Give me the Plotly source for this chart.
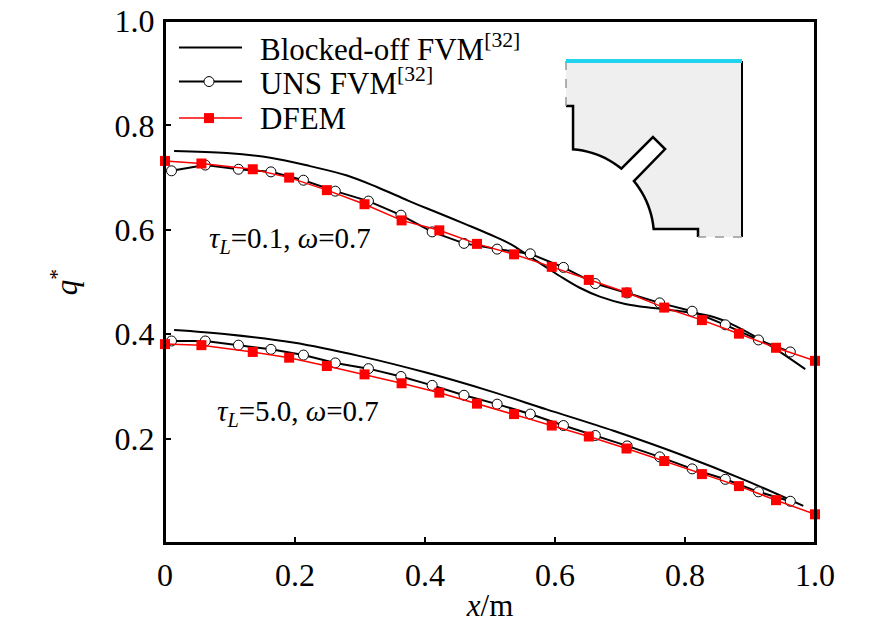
import numpy as np
import plotly.graph_objects as go

# DFEM (red squares)
dfem_x = [0.0, 0.056, 0.135, 0.191, 0.249, 0.307, 0.364, 0.422, 0.480, 0.537,
          0.595, 0.652, 0.710, 0.768, 0.826, 0.883, 0.940, 1.0]
dfem_tau01 = [0.732, 0.727, 0.716, 0.700, 0.676, 0.649, 0.618, 0.599, 0.573, 0.553,
              0.529, 0.504, 0.480, 0.451, 0.427, 0.401, 0.374, 0.349]
dfem_tau50 = [0.381, 0.379, 0.366, 0.355, 0.339, 0.323, 0.306, 0.288, 0.267, 0.247,
              0.225, 0.204, 0.181, 0.157, 0.132, 0.109, 0.082, 0.055]

# UNS FVM (open circles)
uns_x = [0.010, 0.062, 0.113, 0.163, 0.213, 0.262, 0.313, 0.363, 0.411, 0.460,
         0.511, 0.562, 0.613, 0.662, 0.711, 0.761, 0.811, 0.862, 0.913, 0.962]
uns_tau01 = [0.713, 0.724, 0.716, 0.711, 0.695, 0.674, 0.655, 0.628, 0.596, 0.574,
             0.563, 0.554, 0.528, 0.497, 0.479, 0.460, 0.444, 0.418, 0.389, 0.366]
uns_tau50 = [0.387, 0.387, 0.379, 0.371, 0.360, 0.345, 0.334, 0.319, 0.302, 0.283,
             0.266, 0.247, 0.225, 0.206, 0.186, 0.165, 0.142, 0.122, 0.098, 0.080]

# Blocked-off FVM (solid line)
blk_x_tau01 = [0.014, 0.095, 0.162, 0.223, 0.280, 0.326, 0.374, 0.413, 0.464, 0.500,
               0.531, 0.556, 0.582, 0.608, 0.638, 0.669, 0.708, 0.751, 0.792, 0.844,
               0.874, 0.910, 0.946, 0.985]
blk_tau01 = [0.751, 0.747, 0.738, 0.722, 0.704, 0.682, 0.656, 0.636, 0.610, 0.591,
             0.573, 0.553, 0.532, 0.511, 0.489, 0.472, 0.458, 0.450, 0.444, 0.433,
             0.418, 0.394, 0.366, 0.333]
blk_x_tau50 = [0.014, 0.095, 0.197, 0.300, 0.403, 0.500, 0.587, 0.690, 0.792, 0.895, 0.982]
blk_tau50 = [0.408, 0.400, 0.384, 0.358, 0.326, 0.291, 0.256, 0.215, 0.170, 0.119, 0.071]

x_ticks = [0, 0.2, 0.4, 0.6, 0.8, 1.0]
x_tick_text = ["0", "0.2", "0.4", "0.6", "0.8", "1.0"]
y_ticks = [0.2, 0.4, 0.6, 0.8, 1.0]
y_tick_text = ["0.2", "0.4", "0.6", "0.8", "1.0"]

legend_names = ["Blocked-off FVM<sup>[32]</sup>", "UNS FVM<sup>[32]</sup>", "DFEM"]

FONT = "Liberation Serif, Times New Roman, serif"
RED = "#ff0000"
PW, PH = 650, 522  # plot area in px

fig = go.Figure()

for bx, by in [(blk_x_tau01, blk_tau01), (blk_x_tau50, blk_tau50)]:
    fig.add_scatter(x=bx, y=by, mode="lines", showlegend=False,
                    line=dict(color="black", width=2, shape="spline"))

for uy in [uns_tau01, uns_tau50]:
    fig.add_scatter(
        x=uns_x, y=uy, mode="lines+markers", showlegend=False,
        line=dict(color="black", width=2),
        marker=dict(symbol="circle", size=10, color="white", line=dict(color="black", width=1)),
    )

for dy in [dfem_tau01, dfem_tau50]:
    fig.add_scatter(
        x=dfem_x, y=dy, mode="lines+markers", cliponaxis=False, showlegend=False,
        line=dict(color=RED, width=1.5),
        marker=dict(symbol="square", size=10, color=RED),
    )

# frame drawn as one closed path round the plot area
fig.add_shape(type="path", xref="paper", yref="paper", path="M0,0 L0,1 L1,1 L1,0 Z",
              line=dict(color="black", width=2), layer="above")

# hand-made legend (plotly's rows are too far apart at this font size)
rows_y = [0.949, 0.884, 0.814]
line_x0, line_x1, glyph_x, text_x = 0.0215, 0.1185, 0.0677, 0.143
for ry, name, col, lw in zip(rows_y, legend_names, ["black", "black", RED], [2, 2, 1.5]):
    fig.add_shape(type="line", xref="paper", yref="paper", x0=line_x0, x1=line_x1,
                  y0=ry, y1=ry, line=dict(color=col, width=lw))
    fig.add_annotation(x=text_x, y=ry, xref="paper", yref="paper", xanchor="left",
                       yanchor="middle", text=name, showarrow=False,
                       font=dict(size=31, family=FONT, color="black"))
gx, gy = 5 / PW, 5 / PH
fig.add_shape(type="circle", xref="paper", yref="paper",
              x0=glyph_x - gx, x1=glyph_x + gx, y0=rows_y[1] - gy, y1=rows_y[1] + gy,
              fillcolor="white", line=dict(color="black", width=1))
fig.add_shape(type="rect", xref="paper", yref="paper",
              x0=glyph_x - gx, x1=glyph_x + gx, y0=rows_y[2] - gy, y1=rows_y[2] + gy,
              fillcolor=RED, line=dict(width=0))

# inset sketch of the geometry, local units 0..100, circle of radius 50 at origin
def arc(a0, a1, r=50, n=12):
    t = np.radians(np.linspace(a0, a1, n))
    return list(zip(r * np.cos(t), r * np.sin(t)))

wall = [(75, 0), (75, 4.5)] + arc(5.2, 39.5) + [(56.3, 50), (49.4, 56.8)] \
    + arc(51, 85.4) + [(4, 74.4), (0, 74.4)]
outline = [(0, 100), (100, 100), (100, 0)] + wall

IX0, IY0, IS = 401 / PW, 306 / PH, 1.76  # inset origin (paper) and px per unit


def to_path(pts, close=False):
    s = " ".join(
        ("M" if k == 0 else "L") + f"{IX0 + u * IS / PW:.5f},{IY0 + v * IS / PH:.5f}"
        for k, (u, v) in enumerate(pts)
    )
    return s + (" Z" if close else "")


fig.add_shape(type="path", xref="paper", yref="paper", path=to_path(outline, True),
              fillcolor="#efefef", line=dict(width=0), layer="below")
fig.add_shape(type="path", xref="paper", yref="paper", path=to_path(wall),
              line=dict(color="black", width=2.5))
fig.add_shape(type="path", xref="paper", yref="paper",
              path=to_path([(100, 100), (100, 0)]), line=dict(color="black", width=2))
fig.add_shape(type="path", xref="paper", yref="paper",
              path=to_path([(100, 0), (75, 0)]), line=dict(color="#999999", width=1.5, dash="dash"))
fig.add_shape(type="path", xref="paper", yref="paper",
              path=to_path([(0, 74.4), (0, 100)]), line=dict(color="#999999", width=1.5, dash="dash"))
fig.add_shape(type="path", xref="paper", yref="paper",
              path=to_path([(0, 100), (100, 100)]), line=dict(color="#22d3ee", width=4))

fig.add_annotation(x=0.065, y=0.58, xref="x", yref="y", xanchor="left", yanchor="middle",
                   text="<i>τ</i><sub><i>L</i></sub>=0.1, <i>ω</i>=0.7", showarrow=False,
                   font=dict(size=29, family=FONT, color="black"))
fig.add_annotation(x=0.077, y=0.25, xref="x", yref="y", xanchor="left", yanchor="middle",
                   text="<i>τ</i><sub><i>L</i></sub>=5.0, <i>ω</i>=0.7", showarrow=False,
                   font=dict(size=29, family=FONT, color="black"))

axis_common = dict(
    showline=True, linecolor="black", linewidth=2, mirror=True,
    ticks="inside", ticklen=6, tickwidth=2, tickcolor="black",
    showgrid=False, zeroline=False, ticklabeloverflow="allow",
    tickfont=dict(size=32, family=FONT, color="black"),
)

fig.update_xaxes(range=[0, 1], tickvals=x_ticks, ticktext=x_tick_text, ticklabelstandoff=3,
                 title=dict(text="<i>x</i>/m", font=dict(size=31, family=FONT, color="black"), standoff=2),
                 **axis_common)
fig.update_yaxes(range=[0, 1], tickvals=y_ticks, ticktext=y_tick_text, ticklabelstandoff=2,
                 title=dict(text="<i>q</i><sup>*</sup>", font=dict(size=31, family=FONT, color="black"), standoff=28),
                 **axis_common)

# the page body adds an 8px margin, so the figure is 16px smaller than the window
fig.update_layout(
    width=870, height=621,
    margin=dict(l=157, r=63, t=13, b=86, autoexpand=False),
    plot_bgcolor="white", paper_bgcolor="white",
    font=dict(family=FONT, color="black"),
    showlegend=False,
)

fig.write_html("out.html")
